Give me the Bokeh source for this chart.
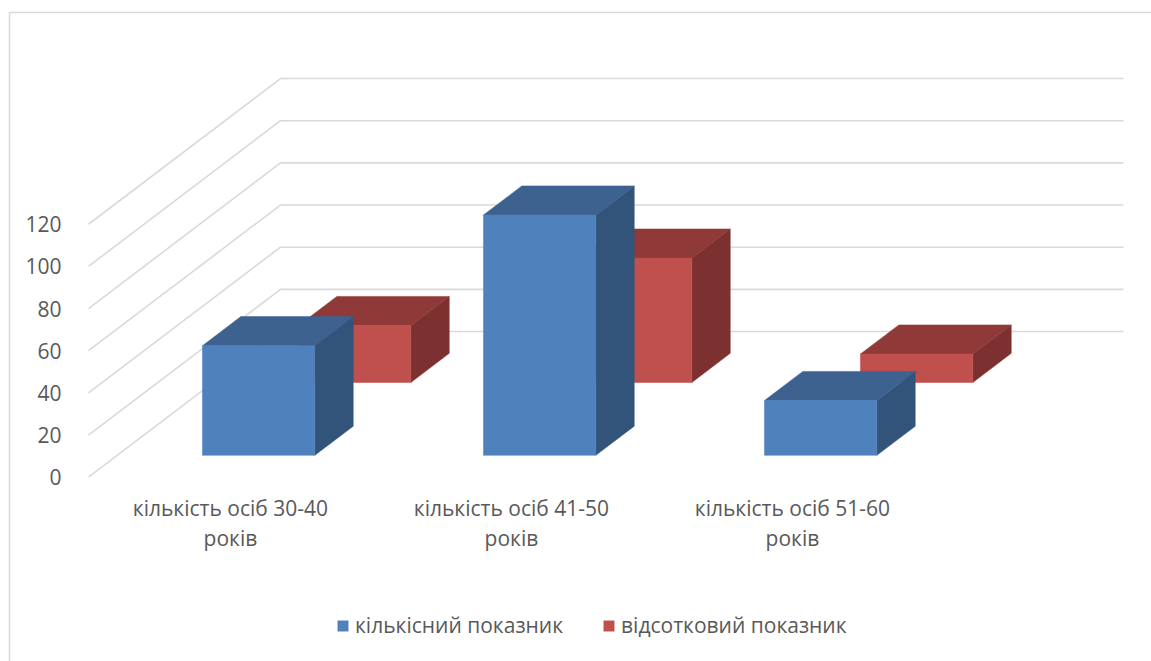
from bokeh.plotting import figure
from bokeh.embed import file_html
from bokeh.resources import INLINE
from bokeh.models import LinearAxis, FixedTicker, Legend, LegendItem, Range1d

categories = ["кількість осіб 30-40\nроків", "кількість осіб 41-50\nроків", "кількість осіб 51-60\nроків"]
series_names = ["кількісний показник", "відсотковий показник"]
counts = [52, 114, 26]
percents = [27, 59, 13.5]
value_ticks = [0, 20, 40, 60, 80, 100, 120]

FONT = "Open Sans"
TXT = "#595959"
GRID = "#D9D9D9"
W, H = 1151, 661
PX_X = 281.0      # pixels per category
PX_Y = 2.108      # pixels per value unit
ORIGIN_X, ORIGIN_Y = 88.0, 476.7   # plot origin inside the figure
DEPTH_X = 192.0 / PX_X             # oblique offset of the back wall, data units
DEPTH_Y = 145.7 / PX_Y


def project(x, v, d):
    return x + d * DEPTH_X, v + d * DEPTH_Y


def box(x0, x1, v, d0, d1):
    corners = {
        "front": [(x0, 0, d0), (x1, 0, d0), (x1, v, d0), (x0, v, d0)],
        "top": [(x0, v, d0), (x1, v, d0), (x1, v, d1), (x0, v, d1)],
        "side": [(x1, 0, d0), (x1, 0, d1), (x1, v, d1), (x1, v, d0)],
    }
    out = {}
    for k, pts in corners.items():
        xy = [project(*q) for q in pts]
        out[k] = ([a for a, _ in xy], [b for _, b in xy])
    return out


p = figure(width=W, height=H, output_backend="svg", toolbar_location=None,
           x_range=Range1d(-ORIGIN_X / PX_X, (W - ORIGIN_X) / PX_X),
           y_range=Range1d(-(H - ORIGIN_Y) / PX_Y, ORIGIN_Y / PX_Y),
           x_axis_type=None, y_axis_type=None,
           min_border=0, min_border_left=0, min_border_right=0, min_border_top=0, min_border_bottom=0)
p.outline_line_color = None
p.grid.visible = False
p.background_fill_color = "white"

# chart border (top and left edges of the pasted chart)
bx = (9 - ORIGIN_X) / PX_X
by = (ORIGIN_Y - 12) / PX_Y
p.line([bx, bx], [-(H - ORIGIN_Y) / PX_Y, by], line_color=GRID, line_width=1.5)
p.line([bx, (W - ORIGIN_X) / PX_X], [by, by], line_color=GRID, line_width=1.5)

# walls' gridlines
n = len(categories)
gx, gy = [], []
for v in value_ticks:
    pts = [project(0, v, 0), project(0, v, 1), project(n, v, 1)]
    gx.append([a for a, _ in pts])
    gy.append([b for _, b in pts])
p.multi_line(gx, gy, line_color=GRID, line_width=1.6)

styles = [
    dict(vals=counts, d0=0.15, d1=0.35, front="#4F81BD", top="#3D6290", side="#32547B"),
    dict(vals=percents, d0=0.65, d1=0.85, front="#C0504D", top="#8F3A39", side="#7C302F"),
]
front_renderers = {}
for idx in (1, 0):
    st = styles[idx]
    faces = {"front": ([], []), "top": ([], []), "side": ([], [])}
    for i, v in enumerate(st["vals"]):
        b = box(i + 0.303, i + 0.703, v, st["d0"], st["d1"])
        for k in faces:
            faces[k][0].append(b[k][0])
            faces[k][1].append(b[k][1])
    for k in ("side", "top", "front"):
        r = p.patches(faces[k][0], faces[k][1], fill_color=st[k], line_color=st[k], line_width=0.5)
        if k == "front":
            front_renderers[idx] = r

# value axis
yax = LinearAxis(ticker=FixedTicker(ticks=value_ticks), fixed_location=0)
yax.axis_line_color = None
yax.major_tick_line_color = None
yax.minor_tick_line_color = None
yax.major_label_standoff = 21
yax.major_label_text_font = FONT
yax.major_label_text_font_size = "21px"
yax.major_label_text_color = TXT
p.add_layout(yax, "left")

# category axis
xax = LinearAxis(ticker=FixedTicker(ticks=[i + 0.505 for i in range(n)]), fixed_location=0)
xax.major_label_overrides = {i + 0.505: c for i, c in enumerate(categories)}
xax.axis_line_color = None
xax.major_tick_line_color = None
xax.minor_tick_line_color = None
xax.major_label_standoff = 11
xax.major_label_text_font = FONT
xax.major_label_text_font_size = "21px"
xax.major_label_text_color = TXT
xax.major_label_text_line_height = 1.05
p.add_layout(xax, "below")

legend = Legend(items=[LegendItem(label=series_names[i], renderers=[front_renderers[i]]) for i in (0, 1)],
                orientation="horizontal", location=(336, 22),
                border_line_color=None, background_fill_alpha=0,
                margin=0, padding=0, spacing=39,
                glyph_width=13, glyph_height=13, label_standoff=6,
                label_text_font=FONT, label_text_font_size="21px", label_text_color=TXT)
p.add_layout(legend, "center")

open("out.html", "w").write(file_html(p, INLINE))
